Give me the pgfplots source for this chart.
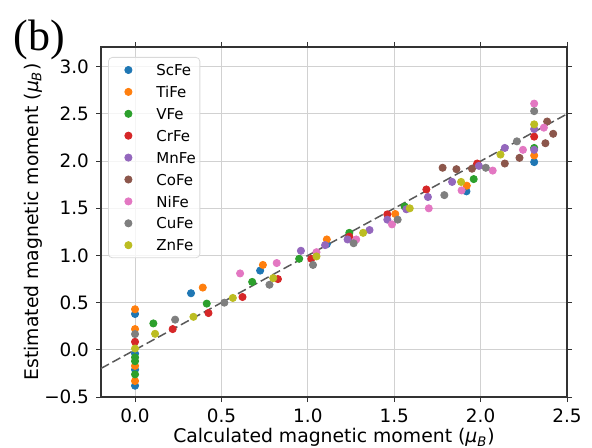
\documentclass[border=0pt]{standalone}
\usepackage{fontspec}
\setmainfont{DejaVu Sans}
\newfontfamily\seriffont{Liberation Serif}
\usepackage{pgfplots}
\pgfplotsset{compat=1.18}
\definecolor{cSc}{HTML}{1F77B4}
\definecolor{cTi}{HTML}{FF7F0E}
\definecolor{cV}{HTML}{2CA02C}
\definecolor{cCr}{HTML}{D62728}
\definecolor{cMn}{HTML}{9467BD}
\definecolor{cCo}{HTML}{8C564B}
\definecolor{cNi}{HTML}{E377C2}
\definecolor{cCu}{HTML}{7F7F7F}
\definecolor{cZn}{HTML}{BCBD22}

\begin{document}
\begin{tikzpicture}
\path[use as bounding box] (-50.5pt,-25pt) rectangle (245.5pt,198.5pt);

\begin{axis}[
  name=ax,
  scale only axis,
  width=233pt, height=175pt,
  xmin=-0.197, xmax=2.5,
  ymin=-0.5, ymax=3.21,
  xtick={0,0.5,1,1.5,2,2.5},
  xticklabels={0.0,0.5,1.0,1.5,2.0,2.5},
  ytick={-0.5,0,0.5,1,1.5,2,2.5,3},
  yticklabels={−0.5,0.0,0.5,1.0,1.5,2.0,2.5,3.0},
  ticklabel style={font=\fontsize{9.2}{11}\selectfont},
  tick align=outside,
  major tick length=2.5pt,
  tick style={draw=black!80, line width=0.5pt},
  axis line style={draw=black!80, line width=0.6pt},
  grid=major,
  major grid style={draw=black!18, line width=0.5pt},
  xlabel={Calculated magnetic moment ({\itshape μ\textsubscript{B}})},
  ylabel={Estimated magnetic moment ({\itshape μ\textsubscript{B}})},
  label style={font=\fontsize{9.4}{11}\selectfont},
  xlabel style={at={(axis description cs:0.5,-0.131)}, anchor=base},
  ylabel style={at={(axis description cs:-0.135,0.5)}, anchor=base},
  legend style={at={(0,1)}, anchor=north west, xshift=3.5pt, yshift=-5pt,
    font=\fontsize{7.5}{9}\selectfont, draw=black!15, rounded corners=2pt,
    fill=white, fill opacity=0.8, text opacity=1,
    nodes={inner sep=0pt, text height=5.6pt, text depth=0pt},
    row sep=5.35pt, column sep=6pt, inner xsep=2pt, inner ysep=3.5pt},
  legend cell align=left,
  legend image code/.code={%
    \path[draw=none, fill=none] (0pt,-2pt) rectangle (16pt,2pt);
    \draw[mark repeat=2,mark phase=2,#1,fill opacity=1,draw opacity=1]
      plot coordinates {(0pt,0pt) (8pt,0pt) (16pt,0pt)};},
  every axis plot/.append style={only marks, mark=*, mark size=1.8pt, mark options={draw=none}},
  clip=false,
]

\addplot[color=cSc] coordinates {
  (0,0.38) (0,-0.04) (0,-0.21) (0,-0.38) (0.324,0.60) (0.724,0.84)
  (1.11,1.12) (1.918,1.68) (2.31,1.99)
};
\addlegendentry{ScFe}
\addplot[color=cTi] coordinates {
  (0,0.43) (0,0.22) (0,-0.17) (0,-0.33) (0.392,0.66) (0.74,0.90)
  (1.11,1.17) (1.506,1.44) (1.92,1.74) (2.31,2.06)
};
\addlegendentry{TiFe}
\addplot[color=cV] coordinates {
  (0,-0.08) (0,-0.12) (0,-0.26) (0.106,0.28) (0.415,0.49) (0.678,0.72)
  (0.95,0.965) (1.24,1.24) (1.56,1.52) (1.96,1.81) (2.31,2.14)
};
\addlegendentry{VFe}
\addplot[color=cCr] coordinates {
  (0,0.085) (0.218,0.22) (0.425,0.39) (0.622,0.56) (0.827,0.75)
  (1.02,0.965) (1.24,1.20) (1.46,1.436) (1.686,1.70) (1.98,1.975) (2.31,2.26)
};
\addlegendentry{CrFe}
\addplot[color=cMn] coordinates {
  (0.96,1.05) (1.10,1.11) (1.23,1.17) (1.357,1.27) (1.46,1.38) (1.57,1.49)
  (1.695,1.62) (1.835,1.78) (1.99,1.95) (2.14,2.14) (2.31,2.34) (2.31,2.12)
};
\addlegendentry{MnFe}
\addplot[color=cCo] coordinates {
  (1.78,1.93) (1.86,1.915) (1.95,1.92) (2.14,1.975) (2.225,2.035)
  (2.375,2.19) (2.42,2.29) (2.385,2.42)
};
\addlegendentry{CoFe}
\addplot[color=cNi] coordinates {
  (0.608,0.81) (0.82,0.92) (1.05,1.035) (1.28,1.17) (1.487,1.33) (1.70,1.50)
  (1.89,1.69) (2.07,1.90) (2.245,2.12) (2.366,2.355) (2.31,2.61)
};
\addlegendentry{NiFe}
\addplot[color=cCu] coordinates {
  (0,0.167) (0.232,0.32) (0.517,0.50) (0.778,0.69) (1.03,0.90) (1.265,1.13)
  (1.52,1.38) (1.79,1.64) (2.03,1.93) (2.21,2.21) (2.31,2.53)
};
\addlegendentry{CuFe}
\addplot[color=cZn] coordinates {
  (0,0.014) (0.116,0.17) (0.338,0.35) (0.566,0.55) (0.80,0.76) (1.05,0.99)
  (1.32,1.24) (1.59,1.50) (1.887,1.78) (2.115,2.07) (2.31,2.39)
};
\addlegendentry{ZnFe}

% y = x guide
\addplot[no marks, sharp plot, draw=black!65, line width=0.75pt,
  dash pattern=on 4.5pt off 2pt, forget plot] coordinates {(-0.197,-0.197) (2.5,2.5)};
\end{axis}

\node[anchor=base west, inner sep=0pt, font=\seriffont\fontsize{22}{24}\selectfont]
  at (-44pt,173.5pt) {(b)};
\end{tikzpicture}
\end{document}
